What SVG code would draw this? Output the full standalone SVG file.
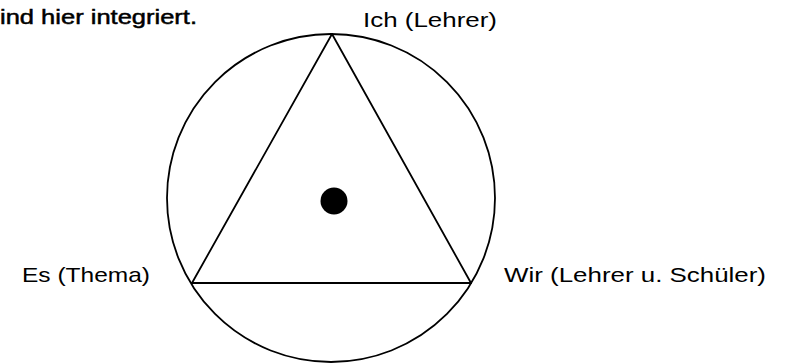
<svg xmlns="http://www.w3.org/2000/svg" width="786" height="363" viewBox="0 0 786 363">
  <style>
    .lbl { font-family: "Liberation Sans", Arial, sans-serif; font-size: 21px; fill: #000; }
    .edge { stroke: #000; stroke-width: 1.8; fill: none; stroke-linecap: round; }
  </style>
  <rect width="786" height="363" fill="#fff"/>
  <text class="lbl" x="0" y="24" textLength="197" lengthAdjust="spacingAndGlyphs" style="stroke:#000;stroke-width:0.5">ind hier integriert.</text>
  <g id="globe">
    <circle cx="331" cy="198" r="164" fill="none" stroke="#000" stroke-width="1.8"/>
  </g>
  <g id="connectors">
    <line class="edge" x1="332" y1="34" x2="192" y2="283"/>
    <line class="edge" x1="332" y1="34" x2="471" y2="283"/>
    <line class="edge" x1="192" y1="283" x2="471" y2="283" stroke-width="2.4"/>
  </g>
  <g id="node-center">
    <circle cx="334" cy="201" r="13.5" fill="#000"/>
  </g>
  <g id="node-ich">
    <text class="lbl" x="363" y="27" textLength="134" lengthAdjust="spacingAndGlyphs">Ich (Lehrer)</text>
  </g>
  <g id="node-es">
    <text class="lbl" x="22" y="282" textLength="128" lengthAdjust="spacingAndGlyphs">Es (Thema)</text>
  </g>
  <g id="node-wir">
    <text class="lbl" x="504" y="282" textLength="262" lengthAdjust="spacingAndGlyphs">Wir (Lehrer u. Schüler)</text>
  </g>
</svg>
